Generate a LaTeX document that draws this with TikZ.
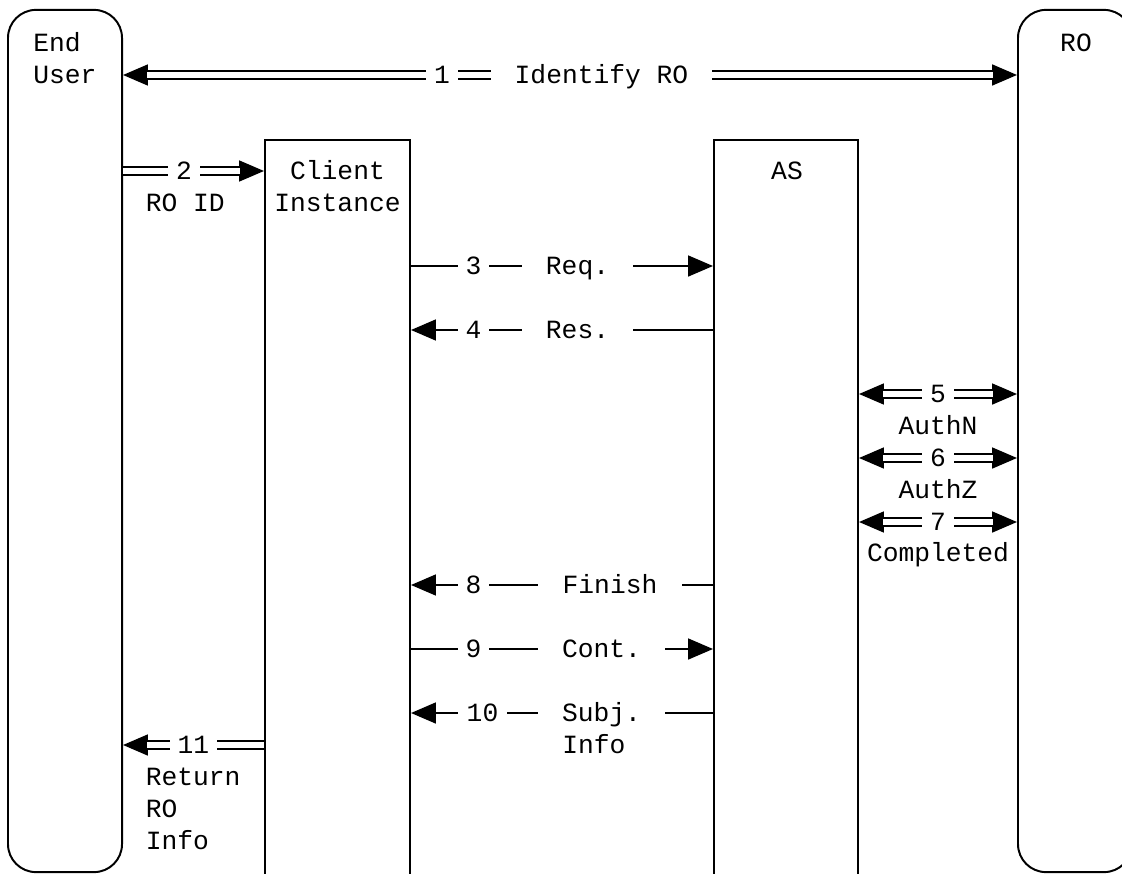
\documentclass[tikz,border=0pt]{standalone}
\usepackage{fontspec}
\usetikzlibrary{arrows.meta,positioning}
\newfontfamily\msgfont{Liberation Mono}

\begin{document}
\begin{tikzpicture}[x=0.025cm,y=-0.025cm,
    >={Triangle[length=0.62cm,width=0.52cm]},
    frame/.style={draw,line width=1.4pt,inner sep=0pt},
    txt/.style={font=\msgfont\fontsize{18.7pt}{22pt}\selectfont,inner sep=0pt,text height=12.6pt,text depth=0pt},
    lab/.style={txt,fill=white,inner xsep=0.2cm,inner ysep=1pt},
    wide/.style={lab,inner xsep=0.6cm},
    msg/.style={line width=1.4pt},
    dbl/.style={double,line width=1.4pt,double distance=3.8pt}]

    \useasboundingbox (0,0) rectangle (1122,873);
    \clip (0,0) rectangle (1122,873);

    % Parties
    \node[frame,rounded corners=0.7cm,minimum width=2.85cm,minimum height=21.55cm] (eu) at (65,441) {};
    \node[frame,rounded corners=0.7cm,minimum width=2.85cm,minimum height=21.55cm] (ro) at (1075,441) {};
    \node[frame,minimum width=3.625cm,minimum height=19.5cm] (ci) at (337.5,530) {};
    \node[frame,minimum width=3.6cm,minimum height=19.5cm] (as) at (786,530) {};

    % Party names
    \node[txt,anchor=west] (euEnd) at (33,43) {End};
    \node[txt,anchor=west] (euUser) at (33,75) {User};
    \node[txt] (roName) at (1076,43) {RO};
    \node[txt] (ciClient) at (337.5,171) {Client};
    \node[txt] (ciInst) at (337.5,203) {Instance};
    \node[txt] (asName) at (787,171) {AS};

    % Message rows
    \coordinate (r1) at (0,75);
    \coordinate (r2) at (0,171);
    \coordinate (r3) at (0,266);
    \coordinate (r4) at (0,330);
    \coordinate (r5) at (0,394);
    \coordinate (r6) at (0,458);
    \coordinate (r7) at (0,522);
    \coordinate (r8) at (0,585);
    \coordinate (r9) at (0,649);
    \coordinate (r10) at (0,713);
    \coordinate (r11) at (0,745);

    % 1: Identify RO
    \draw[msg,<->] (eu.east |- r1) -- (ro.west |- r1);
    \draw[dbl,shorten <=0.6cm,shorten >=0.6cm] (eu.east |- r1) -- (ro.west |- r1);
    \node[lab] (n1) at (442,75) {1};
    \node[wide] (m1) at (601.5,75) {Identify RO};

    % 2: RO ID
    \draw[msg,->] (eu.east |- r2) -- (ci.west |- r2);
    \draw[dbl,shorten >=0.6cm] (eu.east |- r2) -- (ci.west |- r2);
    \node[lab] (n2) at (184,171) {2};
    \node[txt,anchor=west] (m2) at (145.5,203) {RO ID};

    % 3 and 4: request, response
    \draw[msg,->] (ci.east |- r3) -- (as.west |- r3);
    \node[lab] (n3) at (473.5,266) {3};
    \node[wide] (m3) at (577.5,266) {Req.};
    \draw[msg,<-] (ci.east |- r4) -- (as.west |- r4);
    \node[lab] (n4) at (473.5,330) {4};
    \node[wide] (m4) at (577.5,330) {Res.};

    % 5, 6, 7: AS with RO
    \draw[msg,<->] (as.east |- r5) -- (ro.west |- r5);
    \draw[dbl,shorten <=0.6cm,shorten >=0.6cm] (as.east |- r5) -- (ro.west |- r5);
    \node[lab] (n5) at (938,394) {5};
    \node[txt] (m5) at (938,426) {AuthN};
    \draw[msg,<->] (as.east |- r6) -- (ro.west |- r6);
    \draw[dbl,shorten <=0.6cm,shorten >=0.6cm] (as.east |- r6) -- (ro.west |- r6);
    \node[lab] (n6) at (938,458) {6};
    \node[txt] (m6) at (938,490) {AuthZ};
    \draw[msg,<->] (as.east |- r7) -- (ro.west |- r7);
    \draw[dbl,shorten <=0.6cm,shorten >=0.6cm] (as.east |- r7) -- (ro.west |- r7);
    \node[lab] (n7) at (938,522) {7};
    \node[txt] (m7) at (938,553) {Completed};

    % 8, 9, 10: finish, continue, subject info
    \draw[msg,<-] (ci.east |- r8) -- (as.west |- r8);
    \node[lab] (n8) at (473.5,585) {8};
    \node[lab,inner xsep=0.62cm] (m8) at (610,585) {Finish};
    \draw[msg,->] (ci.east |- r9) -- (as.west |- r9);
    \node[lab] (n9) at (473.5,649) {9};
    \node[wide] (m9) at (601.5,649) {Cont.};
    \draw[msg,<-] (ci.east |- r10) -- (as.west |- r10);
    \node[lab,inner xsep=0.22cm] (n10) at (482.5,713) {10};
    \node[wide] (m10) at (601.5,713) {Subj.};
    \node[txt,anchor=west] (m10b) at (562,745) {Info};

    % 11: return RO info
    \draw[msg,<-] (eu.east |- r11) -- (ci.west |- r11);
    \draw[dbl,shorten <=0.6cm] (eu.east |- r11) -- (ci.west |- r11);
    \node[lab] (n11) at (193.5,745) {11};
    \node[txt,anchor=west] (m11a) at (145.5,777) {Return};
    \node[txt,anchor=west] (m11b) at (145.5,809) {RO};
    \node[txt,anchor=west] (m11c) at (145.5,841) {Info};
\end{tikzpicture}
\end{document}
